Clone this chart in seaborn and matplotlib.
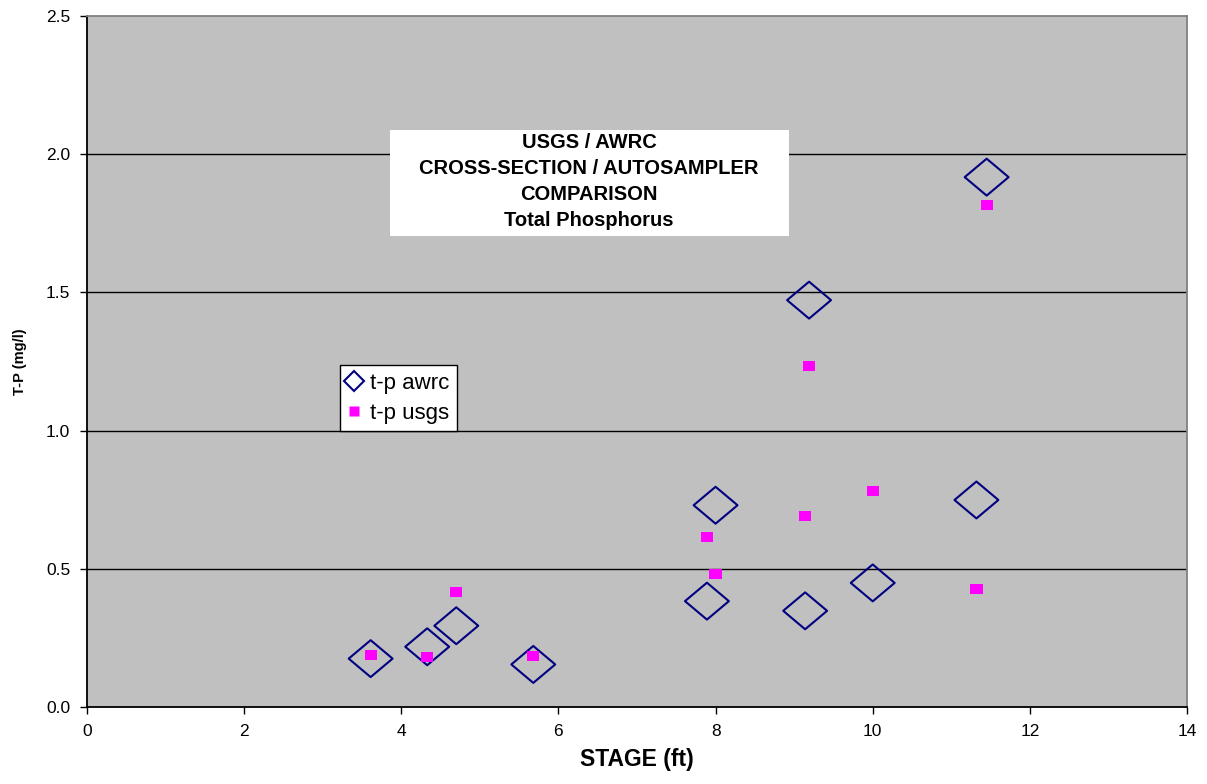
import numpy as np
import pandas as pd
import seaborn as sns
import matplotlib.pyplot as plt
from matplotlib.path import Path
from matplotlib.lines import Line2D
from matplotlib.patches import Rectangle

# Data
stage_awrc = [3.61, 4.33, 4.70, 5.68, 7.89, 8.00, 9.19, 9.14, 10.00, 11.32, 11.45]
tp_awrc = [0.175, 0.218, 0.294, 0.154, 0.383, 0.730, 1.472, 0.348, 0.449, 0.749, 1.917]

stage_usgs = [3.61, 4.33, 4.70, 5.68, 7.89, 8.00, 9.19, 9.14, 10.00, 11.32, 11.45]
tp_usgs = [0.189, 0.180, 0.415, 0.185, 0.614, 0.480, 1.234, 0.690, 0.780, 0.427, 1.816]

x_ticks = [0, 2, 4, 6, 8, 10, 12, 14]
y_ticks = [0.0, 0.5, 1.0, 1.5, 2.0, 2.5]
title_lines = ["USGS / AWRC", "CROSS-SECTION / AUTOSAMPLER", "COMPARISON", "Total Phosphorus"]

df_awrc = pd.DataFrame({"stage": stage_awrc, "tp": tp_awrc})
df_usgs = pd.DataFrame({"stage": stage_usgs, "tp": tp_usgs})

sns.set_style("white")
plt.rcParams["font.family"] = ["Liberation Sans", "DejaVu Sans"]
plt.rcParams["text.color"] = "black"
plt.rcParams["axes.labelcolor"] = "black"
plt.rcParams["xtick.color"] = "black"
plt.rcParams["ytick.color"] = "black"

# slightly flattened diamond and square, like the original
diamond = Path([(-1, 0), (0, 0.84), (1, 0), (0, -0.84), (-1, 0)],
               [Path.MOVETO, Path.LINETO, Path.LINETO, Path.LINETO, Path.CLOSEPOLY])
square = Path([(-1, -0.83), (1, -0.83), (1, 0.83), (-1, 0.83), (-1, -0.83)],
              [Path.MOVETO, Path.LINETO, Path.LINETO, Path.LINETO, Path.CLOSEPOLY])

fig = plt.figure(figsize=(12.07, 7.84), dpi=100)
ax = fig.add_axes([87 / 1207, 1 - 707 / 784, 1100 / 1207, 691 / 784])
ax.set_facecolor("#C0C0C0")

sns.scatterplot(data=df_awrc, x="stage", y="tp", marker=diamond, s=1000,
                facecolor="none", edgecolor="#000080", linewidth=1.5, ax=ax, zorder=3)
sns.scatterplot(data=df_usgs, x="stage", y="tp", marker=square, s=78,
                color="#FF00FF", edgecolor="none", linewidth=0, ax=ax, zorder=4)

ax.set_xlim(0, 14)
ax.set_ylim(0, 2.5)
ax.set_xticks(x_ticks)
ax.set_yticks(y_ticks)
ax.set_yticklabels([f"{v:.1f}" for v in y_ticks])
ax.tick_params(axis="both", direction="out", length=5, width=1, color="black",
               labelsize=12.5, labelcolor="black", left=True, bottom=True, pad=7)

for v in y_ticks[1:-1]:
    ax.axhline(v, color="black", linewidth=1.0, zorder=1)

for s in ["left", "bottom"]:
    ax.spines[s].set_color("black")
    ax.spines[s].set_linewidth(1.3)
for s in ["top", "right"]:
    ax.spines[s].set_color("#808080")
    ax.spines[s].set_linewidth(1.3)

ax.set_xlabel("STAGE (ft)", fontsize=16.5, fontweight="bold", labelpad=7)
ax.set_ylabel("T-P (mg/l)", fontsize=10.5, fontweight="bold",
              fontstretch="condensed", labelpad=14)

# title box
ax.add_patch(Rectangle((0.2755, 0.6816), 0.3627, 0.1534, transform=ax.transAxes,
                       facecolor="white", edgecolor="none", zorder=2))
for i, line in enumerate(title_lines):
    ax.text(0.4564, 0.8165 - i * 0.0375, line, transform=ax.transAxes,
            ha="center", va="center", fontsize=14.5, fontweight="bold", zorder=5)

handles = [
    Line2D([], [], linestyle="none", marker="D", markersize=10, markerfacecolor="none",
           markeredgecolor="#000080", markeredgewidth=1.5, label="t-p awrc"),
    Line2D([], [], linestyle="none", marker="s", markersize=7.5, markerfacecolor="#FF00FF",
           markeredgecolor="none", label="t-p usgs"),
]
leg = ax.legend(handles=handles, loc="upper left", bbox_to_anchor=(0.23, 0.495),
                borderaxespad=0, fontsize=16, frameon=True, fancybox=False,
                handlelength=0.6, handletextpad=0.4, borderpad=0.35, labelspacing=0.4)
leg.get_frame().set_edgecolor("black")
leg.get_frame().set_facecolor("white")
leg.get_frame().set_alpha(1)
leg.get_frame().set_linewidth(1.0)
leg.set_zorder(6)

fig.savefig("out.png", dpi=100)
